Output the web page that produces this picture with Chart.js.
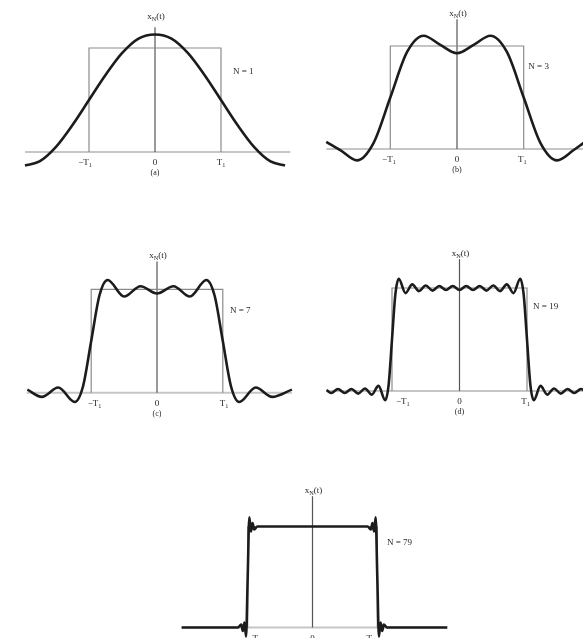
<!DOCTYPE html>
<html>
<head>
<meta charset="utf-8">
<script src="https://cdn.jsdelivr.net/npm/chart.js@4.4.0/dist/chart.umd.min.js"></script>
<style>
  body { margin: 0; background: #fff; }
  #wrap { position: relative; width: 583px; height: 638px; overflow: hidden; background: #fff; }
  canvas { position: absolute; }
</style>
</head>
<body>
<div id="wrap">
  <canvas id="pa"></canvas>
  <canvas id="pb"></canvas>
  <canvas id="pc"></canvas>
  <canvas id="pd"></canvas>
  <canvas id="pe"></canvas>
</div>
<script>
// t in units of T1, x_N(t) in units of the pulse height
const tN1 = [-1.97, -1.75, -1.5, -1.25, -1, -0.75, -0.5, -0.25, 0, 0.25, 0.5, 0.75, 1, 1.25, 1.5, 1.75, 1.97];
const xN1 = [-0.13, -0.09, 0.05, 0.26, 0.5, 0.74, 0.95, 1.09, 1.13, 1.09, 0.95, 0.74, 0.5, 0.26, 0.05, -0.09, -0.13];

const tN3 = [-1.96, -1.75, -1.5, -1.25, -1, -0.75, -0.5, -0.25, 0, 0.25, 0.5, 0.75, 1, 1.25, 1.5, 1.75, 1.9];
const xN3 = [0.07, -0.01, -0.11, 0.06, 0.5, 0.94, 1.10, 1.01, 0.93, 1.01, 1.10, 0.94, 0.5, 0.06, -0.11, -0.01, 0.06];

const tN7 = [-1.97, -1.75, -1.5, -1.25, -1.125, -1, -0.875, -0.75, -0.5, -0.25, 0, 0.25, 0.5, 0.75, 0.875, 1, 1.125, 1.25, 1.5, 1.75, 2.05];
const xN7 = [0.03, -0.04, 0.05, -0.09, 0.06, 0.5, 0.94, 1.09, 0.93, 1.03, 0.96, 1.03, 0.93, 1.09, 0.94, 0.5, 0.06, -0.09, 0.05, -0.04, 0.03];

const tN19 = [-1.97, -1.9, -1.8, -1.7, -1.6, -1.5, -1.4, -1.3, -1.2, -1.1, -1.05, -1, -0.95, -0.9, -0.8, -0.7, -0.6, -0.5, -0.4, -0.3, -0.2, -0.1, 0,
              0.1, 0.2, 0.3, 0.4, 0.5, 0.6, 0.7, 0.8, 0.9, 0.95, 1, 1.05, 1.1, 1.2, 1.3, 1.4, 1.5, 1.6, 1.7, 1.8, 1.9];
const xN19 = [0.01, -0.02, 0.02, -0.02, 0.02, -0.025, 0.025, -0.035, 0.05, -0.09, 0.06, 0.5, 0.94, 1.09, 0.95, 1.035, 0.97, 1.025, 0.975, 1.02, 0.98, 1.02, 0.98,
              1.02, 0.98, 1.02, 0.975, 1.025, 0.97, 1.035, 0.95, 1.09, 0.94, 0.5, 0.06, -0.09, 0.05, -0.035, 0.025, -0.025, 0.02, -0.02, 0.02, -0.02];

const tN79 = [-2.02, -1.15, -1.1, -1.075, -1.05, -1.025, -1, -0.975, -0.95, -0.925, -0.9, -0.85, 0,
              0.85, 0.9, 0.925, 0.95, 0.975, 1, 1.025, 1.05, 1.075, 1.1, 1.15, 2.08];
const xN79 = [0, 0, 0.03, -0.035, 0.05, -0.09, 0.5, 1.09, 0.95, 1.035, 0.97, 1.0, 1.0,
              1.0, 0.97, 1.035, 0.95, 1.09, 0.5, -0.09, 0.05, -0.035, 0.03, 0, 0];

// the ideal square pulse
const pulseT = [-1, -1, 1, 1];
const pulseX = [0, 1, 1, 0];

const tickLabels = ['\u2212T_1', '0', 'T_1'];
const yLabel = 'x_N(t)';

const panels = [
  { id: 'pa', t: tN1, x: xN1, n: 'N = 1', letter: '(a)', box: [0, 0, 300, 220], cx: 155, sx: 66, by: 152, sy: 104,
    base: [-1.97, 2.05], axisTop: 1.2, nPos: [1.18, 0.77], tickT: [-1.06, 0, 1.0], labelGap: 11 },
  { id: 'pb', t: tN3, x: xN3, n: 'N = 3', letter: '(b)', box: [300, 0, 283, 220], cx: 457, sx: 66.7, by: 149, sy: 103,
    base: [-1.96, 1.9], axisTop: 1.26, nPos: [1.07, 0.8], tickT: [-1.02, 0, 0.98], labelGap: 6 },
  { id: 'pc', t: tN7, x: xN7, n: 'N = 7', letter: '(c)', box: [0, 240, 300, 210], cx: 157, sx: 65.8, by: 392.7, sy: 103.4,
    base: [-1.98, 2.05], axisTop: 1.27, nPos: [1.11, 0.79], tickT: [-0.95, 0, 1.02], labelGap: 6 },
  { id: 'pd', t: tN19, x: xN19, n: 'N = 19', letter: '(d)', box: [300, 240, 283, 210], cx: 459.5, sx: 67.5, by: 391, sy: 103,
    base: [-1.97, 1.9], axisTop: 1.28, nPos: [1.09, 0.82], tickT: [-0.84, 0, 0.98], labelGap: 6 },
  { id: 'pe', t: tN79, x: xN79, n: 'N = 79', letter: '', box: [170, 450, 285, 188], cx: 312.5, sx: 64.8, by: 627.5, sy: 101,
    base: [-2.02, 2.08], axisTop: 1.3, nPos: [1.15, 0.84], tickT: [-0.9, 0, 0.9], labelGap: 6 }
];

// draws text where the character after "_" is a subscript, centred on x
function drawSub(ctx, text, x, y, size) {
  const parts = [];
  for (let i = 0; i < text.length; i++) {
    if (text[i] === '_') { parts.push([text[i + 1], true]); i++; }
    else if (parts.length && !parts[parts.length - 1][1]) parts[parts.length - 1][0] += text[i];
    else parts.push([text[i], false]);
  }
  const font = s => s + 'px "Liberation Serif", "DejaVu Serif", serif';
  let w = 0;
  parts.forEach(p => { ctx.font = font(p[1] ? size * 0.7 : size); w += ctx.measureText(p[0]).width; });
  let cur = x - w / 2;
  ctx.textAlign = 'left';
  parts.forEach(p => {
    ctx.font = font(p[1] ? size * 0.7 : size);
    ctx.fillText(p[0], cur, p[1] ? y + size * 0.3 : y);
    cur += ctx.measureText(p[0]).width;
  });
}

function labelPlugin(p) {
  return {
    id: 'labels',
    afterDraw(chart) {
      const ctx = chart.ctx, xs = chart.scales.x, ys = chart.scales.y;
      const y0 = ys.getPixelForValue(0);
      ctx.save();
      ctx.fillStyle = '#262626';
      ctx.textBaseline = 'middle';
      drawSub(ctx, yLabel, xs.getPixelForValue(0) + 1, ys.getPixelForValue(p.axisTop) - p.labelGap, 9);
      tickLabels.forEach((lab, i) => drawSub(ctx, lab, xs.getPixelForValue(p.tickT[i]), y0 + 11, 9));
      if (p.letter) drawSub(ctx, p.letter, xs.getPixelForValue(0), y0 + 21, 8);
      ctx.font = '9px "Liberation Serif", "DejaVu Serif", serif';
      ctx.textAlign = 'left';
      ctx.fillText(p.n, xs.getPixelForValue(p.nPos[0]), ys.getPixelForValue(p.nPos[1]));
      ctx.restore();
    }
  };
}

panels.forEach(p => {
  const [left, top, w, h] = p.box;
  const cv = document.getElementById(p.id);
  cv.width = w;
  cv.height = h;
  cv.style.left = left + 'px';
  cv.style.top = top + 'px';

  const xmin = (left - p.cx) / p.sx, xmax = (left + w - p.cx) / p.sx;
  const ymax = (p.by - top) / p.sy, ymin = (p.by - top - h) / p.sy;

  new Chart(cv, {
    type: 'scatter',
    data: {
      datasets: [
        {
          data: p.t.map((t, i) => ({ x: t, y: p.x[i] })),
          showLine: true, borderColor: '#1c1c1c', borderWidth: 2.6, pointRadius: 0,
          cubicInterpolationMode: 'monotone', order: 0
        },
        {
          data: pulseT.map((t, i) => ({ x: t, y: pulseX[i] })),
          showLine: true, borderColor: '#8c8c8c', borderWidth: 1.2, pointRadius: 0, tension: 0, order: 1
        },
        {
          data: [{ x: 0, y: 0 }, { x: 0, y: p.axisTop }],
          showLine: true, borderColor: '#555', borderWidth: 1.2, pointRadius: 0, tension: 0, order: 2
        },
        {
          data: [{ x: p.base[0], y: 0 }, { x: p.base[1], y: 0 }],
          showLine: true, borderColor: '#c6c6c6', borderWidth: 2, pointRadius: 0, tension: 0, order: 3
        }
      ]
    },
    options: {
      responsive: false,
      animation: false,
      events: [],
      layout: { padding: 0 },
      plugins: { legend: { display: false }, tooltip: { enabled: false } },
      scales: {
        x: { type: 'linear', display: false, min: xmin, max: xmax },
        y: { type: 'linear', display: false, min: ymin, max: ymax }
      }
    },
    plugins: [labelPlugin(p)]
  });
});
</script>
</body>
</html>
